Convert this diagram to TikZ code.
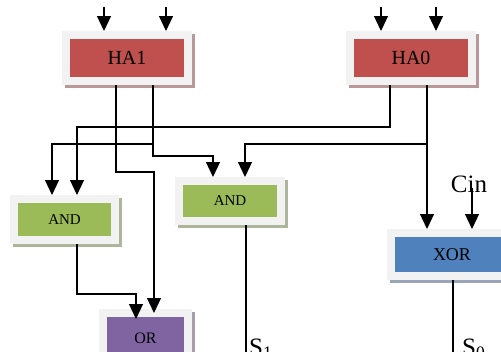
\documentclass[tikz,border=0pt]{standalone}
\usepackage{fontspec}
\setmainfont{Liberation Serif}
\usetikzlibrary{arrows.meta}

\definecolor{haRed}{HTML}{C0504D}
\definecolor{andGreen}{HTML}{9BBB59}
\definecolor{xorBlue}{HTML}{4F81BD}
\definecolor{orPurple}{HTML}{8064A2}
\definecolor{frameGray}{HTML}{F2F2F2}

\tikzset{
  gate/.style={fill=#1, draw=frameGray, line width=8pt, inner sep=0pt, outer sep=4pt,
    preaction={fill=#1!40!gray!70, draw=#1!40!gray!70, line width=8pt,
      transform canvas={shift={(3pt,-3pt)}}}},
  wire/.style={line width=1.2pt},
  pin/.style={wire, -{Triangle[width=14pt,length=15pt]}},
  lbl/.style={inner sep=0pt, font=\fontsize{25}{25}\selectfont},
}

\begin{document}
\begin{tikzpicture}[x=1pt,y=-1pt]
\clip (0,0) rectangle (501,351);
\fill[white] (0,0) rectangle (501,351);

\node[gate=haRed, minimum width=122pt, minimum height=46pt, font=\fontsize{20}{20}\selectfont] (ha1) at (127,58) {HA1};
\node[gate=haRed, minimum width=122pt, minimum height=46pt, font=\fontsize{20}{20}\selectfont] (ha0) at (411,58) {HA0};
\node[gate=andGreen, minimum width=101pt, minimum height=41pt, font=\fontsize{15}{15}\selectfont] (and1) at (64.5,219.5) {AND};
\node[gate=andGreen, minimum width=102pt, minimum height=40pt, font=\fontsize{15}{15}\selectfont] (and2) at (230,201) {AND};
\node[gate=xorBlue, minimum width=122pt, minimum height=43pt, font=\fontsize{18}{18}\selectfont] (xor) at (452,254.5) {XOR};
\node[gate=orPurple, minimum width=85pt, minimum height=50pt, font=\fontsize{16}{16}\selectfont] (orgate) at (145.5,338) {OR};

\node[lbl, anchor=base] (cinlbl) at (469,192) {Cin};
\node[lbl, anchor=base west] (s1) at (249,355) {S\textsubscript{1}};
\node[lbl, anchor=base west] (s0) at (462,355) {S\textsubscript{0}};

% inputs
\coordinate (ha1a) at (104,7);
\coordinate (ha1b) at (166,7);
\coordinate (ha0a) at (381,7);
\coordinate (ha0b) at (436,7);
\coordinate (cin) at (472,188);
\draw[pin] (ha1a) -- (ha1a |- ha1.north);
\draw[pin] (ha1b) -- (ha1b |- ha1.north);
\draw[pin] (ha0a) -- (ha0a |- ha0.north);
\draw[pin] (ha0b) -- (ha0b |- ha0.north);
\draw[pin] (cin) -- (cin |- xor.north);

% HA1
\draw[pin] ([xshift=-11pt]ha1.south) -- ++(0,87) -| ([xshift=8.5pt,yshift=-4pt]orgate.north);
\draw[pin] ([xshift=26pt]ha1.south) -- ++(0,71) -| ([xshift=-17pt]and2.north);
\draw[pin] ([xshift=26pt]ha1.south) ++(0,59) -| ([xshift=-12.5pt]and1.north);

% HA0
\draw[pin] ([xshift=-21pt]ha0.south) -- ++(0,42) -| ([xshift=12.5pt]and1.north);
\draw[pin] ([xshift=16pt]ha0.south) -- ([xshift=-25pt]xor.north);
\draw[pin] ([xshift=16pt]ha0.south) ++(0,59) -| ([xshift=15pt]and2.north);

% outputs
\draw[pin] ([xshift=12.5pt]and1.south) -- ++(0,50) -| ([xshift=-9.5pt,yshift=-10pt]orgate.north);
\draw[wire] ([xshift=16pt]and2.south) -- ++(0,140);
\draw[wire] ([xshift=1pt]xor.south) -- ++(0,80);

\end{tikzpicture}
\end{document}
